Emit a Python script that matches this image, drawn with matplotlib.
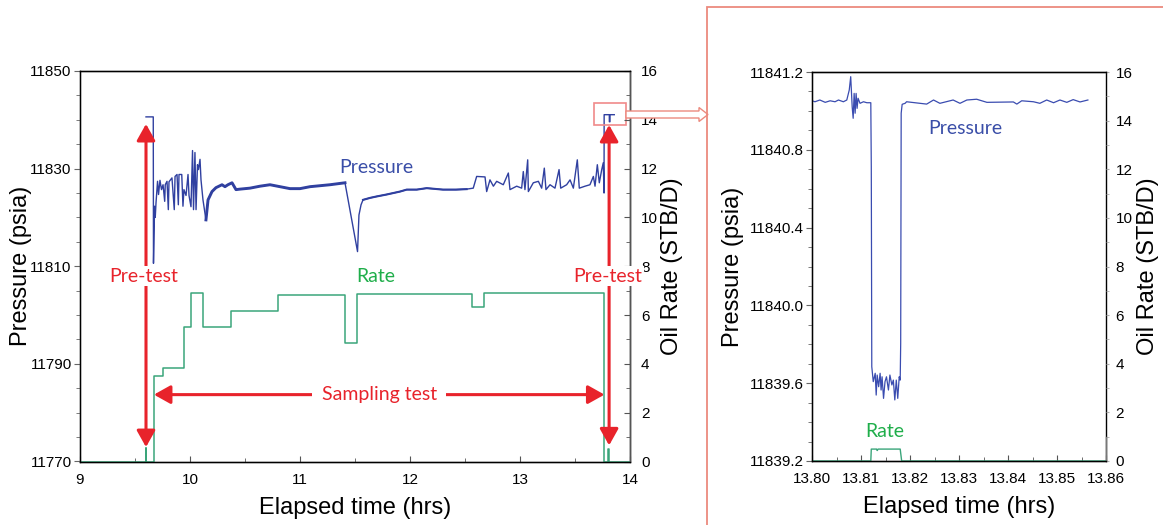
import matplotlib
matplotlib.use("Agg")
import matplotlib.pyplot as plt
import matplotlib.patches as mpatches
from matplotlib.ticker import MultipleLocator, FormatStrFormatter
import numpy as np

# ---- left panel: whole test ----
p_time = [9.600, 9.666, 9.668, 9.678, 9.684, 9.691, 9.705, 9.714, 9.727, 9.741, 9.755, 9.770,
          9.775, 9.791, 9.803, 9.809, 9.836, 9.857, 9.864, 9.882, 9.894, 9.900, 9.925, 9.936,
          9.945, 9.964, 9.982, 9.991, 10.009, 10.023, 10.032, 10.045, 10.055, 10.068, 10.077,
          10.091, 10.100, 10.118, 10.145, 10.164, 10.200, 10.236, 10.291, 10.318, 10.345, 10.382,
          10.418, 10.455, 10.545, 10.636, 10.727, 10.818, 10.909, 11.000, 11.091, 11.182, 11.273,
          11.409, 11.523, 11.536, 11.555, 11.573, 11.636, 11.697, 11.788, 11.909, 11.970, 12.061,
          12.152, 12.300, 12.418, 12.515, 12.575, 12.606, 12.682, 12.697, 12.727, 12.758, 12.788,
          12.848, 12.894, 12.909, 12.970, 13.015, 13.030, 13.045, 13.070, 13.076, 13.121, 13.167,
          13.197, 13.221, 13.236, 13.273, 13.318, 13.355, 13.370, 13.424, 13.455, 13.485, 13.521,
          13.539, 13.591, 13.636, 13.667, 13.682, 13.703, 13.721, 13.743, 13.757, 13.764, 13.765,
          13.812, 13.8122, 13.818, 13.8182, 13.857]
p_val = [11840.6, 11840.6, 11810.6, 11822.3, 11820.0, 11823.0, 11827.4, 11824.7, 11827.6, 11825.7,
         11826.7, 11823.3, 11826.7, 11827.4, 11821.6, 11827.3, 11828.1, 11821.6, 11828.4, 11828.8,
         11822.6, 11828.8, 11828.8, 11822.3, 11825.7, 11824.5, 11828.8, 11824.5, 11822.2, 11833.7,
         11821.6, 11833.3, 11821.6, 11830.8, 11829.8, 11831.9, 11827.7, 11823.6, 11819.5, 11823.6,
         11825.3, 11826.1, 11826.7, 11826.3, 11826.7, 11827.1, 11825.7, 11825.8, 11826.0, 11826.4,
         11826.7, 11826.3, 11825.9, 11825.9, 11826.3, 11826.5, 11826.7, 11827.1, 11813.0, 11820.5,
         11822.6, 11823.6, 11824.0, 11824.3, 11824.7, 11825.3, 11825.7, 11825.7, 11826.0, 11825.7,
         11825.7, 11825.8, 11826.0, 11828.4, 11828.3, 11825.3, 11827.7, 11826.4, 11827.4, 11826.7,
         11829.1, 11825.7, 11826.4, 11826.0, 11829.4, 11825.7, 11831.8, 11825.3, 11827.1, 11827.4,
         11826.0, 11830.1, 11825.7, 11826.7, 11826.0, 11829.8, 11826.0, 11826.7, 11827.7, 11826.0,
         11831.8, 11826.0, 11826.4, 11826.7, 11828.4, 11826.4, 11830.8, 11827.1, 11829.8, 11831.2,
         11825.0, 11841.05, 11841.05, 11839.6, 11839.6, 11841.05, 11841.05]

rate_time = [9.0, 9.599, 9.603, 9.669, 9.752, 9.943, 10.006, 10.121, 10.373, 10.803, 11.411,
             11.522, 12.561, 12.672, 13.768, 13.803, 13.807, 14.0]
rate_val = [0, 0.55, 0, 3.50, 3.83, 5.50, 6.91, 5.50, 6.17, 6.83, 4.86, 6.85, 6.32, 6.91, 0, 0.5, 0, 0]

# ---- right panel: zoom on the second pre-test ----
zp_time = [13.8000, 13.8006, 13.8016, 13.8027, 13.8037, 13.8047, 13.8054, 13.8064, 13.8071,
           13.8076, 13.8079, 13.8082, 13.8084, 13.8086, 13.8088, 13.8090, 13.8092, 13.8094,
           13.8098, 13.8105, 13.8112, 13.8120, 13.8121, 13.8122, 13.8125, 13.8129, 13.8131,
           13.8133, 13.8136, 13.8139, 13.8141, 13.8143, 13.8146, 13.8149, 13.8152, 13.8156,
           13.8159, 13.8163, 13.8166, 13.8169, 13.8172, 13.8175, 13.8178, 13.8180, 13.8181,
           13.8182, 13.8184, 13.8190, 13.8193, 13.8234, 13.8248, 13.8261, 13.8288, 13.8302,
           13.8316, 13.8336, 13.8357, 13.8411, 13.8418, 13.8428, 13.8452, 13.8465, 13.8479,
           13.8493, 13.8506, 13.8520, 13.8533, 13.8547, 13.8563]
zp_val = [11841.052, 11841.047, 11841.056, 11841.044, 11841.052, 11841.047, 11841.056, 11841.047,
          11841.056, 11841.107, 11841.176, 11841.021, 11840.962, 11841.090, 11840.988, 11841.090,
          11841.013, 11841.065, 11841.039, 11841.047, 11841.042, 11841.042, 11840.713, 11839.685,
          11839.608, 11839.651, 11839.539, 11839.642, 11839.582, 11839.651, 11839.565, 11839.633,
          11839.522, 11839.608, 11839.633, 11839.565, 11839.642, 11839.591, 11839.616, 11839.514,
          11839.616, 11839.522, 11839.633, 11839.616, 11839.805, 11840.988, 11841.034, 11841.039,
          11841.047, 11841.035, 11841.056, 11841.039, 11841.056, 11841.039, 11841.056, 11841.060,
          11841.044, 11841.046, 11841.035, 11841.052, 11841.047, 11841.039, 11841.056, 11841.042,
          11841.056, 11841.044, 11841.058, 11841.046, 11841.056]

zr_time = [13.800, 13.8120, 13.8121, 13.8132, 13.8133, 13.8135, 13.8180, 13.8183, 13.860]
zr_val = [0, 0, 0.49, 0.49, 0.43, 0.49, 0.49, 0, 0]

blue = "#3040a0"
green = "#3aa57a"
lbl_green = "#1fae4a"
red = "#e8232b"
salmon = "#ec8a7e"
tickfont = "Liberation Sans"
notefont = "Lato"

fig = plt.figure(figsize=(11.63, 5.25), dpi=100)
W, H = 1163.0, 525.0
ax1 = fig.add_axes([80 / W, 1 - 461.5 / H, 550 / W, 390.5 / H])
ax1r = ax1.twinx()
ax2 = fig.add_axes([812 / W, 1 - 461 / H, 294 / W, 389 / H])
ax2r = ax2.twinx()

# left panel
pt = np.array(p_time)
pv = np.array(p_val)
ax1.plot(pt, pv, color=blue, lw=1.0)
band = (pt >= 10.12) & (pt <= 11.41)
ax1.plot(pt[band], pv[band], color=blue, lw=2.1)
band2 = (pt >= 11.57) & (pt <= 12.56)
ax1.plot(pt[band2], pv[band2], color=blue, lw=1.5)
ax1r.plot(rate_time, rate_val, color=green, lw=1.1, drawstyle="steps-post")

ax1.set_xlim(9, 14)
ax1.set_ylim(11770, 11850)
ax1r.set_ylim(0, 16)
ax1.set_yticks([11770, 11790, 11810, 11830, 11850])
ax1.yaxis.set_minor_locator(MultipleLocator(5))
ax1.xaxis.set_major_locator(MultipleLocator(1))
ax1.xaxis.set_minor_locator(MultipleLocator(0.5))
ax1r.yaxis.set_major_locator(MultipleLocator(2))
ax1r.yaxis.set_minor_locator(MultipleLocator(1))

# right panel
ax2.plot(zp_time, zp_val, color="#3a4cb0", lw=0.9)
ax2r.plot(zr_time, zr_val, color=green, lw=1.0)
ax2.set_xlim(13.80, 13.86)
ax2.set_ylim(11839.2, 11841.2)
ax2r.set_ylim(0, 16)
ax2.yaxis.set_major_locator(MultipleLocator(0.4))
ax2.yaxis.set_minor_locator(MultipleLocator(0.1))
ax2.yaxis.set_major_formatter(FormatStrFormatter("%.1f"))
ax2.xaxis.set_major_locator(MultipleLocator(0.01))
ax2.xaxis.set_minor_locator(MultipleLocator(0.005))
ax2.xaxis.set_major_formatter(FormatStrFormatter("%.2f"))
ax2r.yaxis.set_major_locator(MultipleLocator(2))
ax2r.yaxis.set_minor_locator(MultipleLocator(1))

for a in (ax1, ax1r, ax2, ax2r):
    for s in a.spines.values():
        s.set_linewidth(1.0)
    for lab in a.get_xticklabels() + a.get_yticklabels():
        lab.set_fontfamily(tickfont)
        lab.set_fontsize(11)
for a in (ax1, ax2):
    a.spines["left"].set_color("#8a8a8a")
    a.spines["bottom"].set_color("#555555")
    a.spines["top"].set_color("#555555")
    a.tick_params(axis="y", which="both", direction="out", colors="#666666", labelcolor="black", pad=2)
    a.tick_params(axis="y", which="major", length=4)
    a.tick_params(axis="y", which="minor", length=3)
    a.tick_params(axis="x", which="both", direction="in", colors="#555555", labelcolor="black", pad=8)
    a.tick_params(axis="x", which="major", length=4)
    a.tick_params(axis="x", which="minor", length=3)
ax1r.spines["right"].set_color("#555555")
ax1r.tick_params(axis="y", which="both", direction="in", colors="#555555", labelcolor="black", pad=8)
ax1r.tick_params(axis="y", which="major", length=4)
ax1r.tick_params(axis="y", which="minor", length=3)
ax2r.spines["right"].set_color("#777777")
ax2r.spines["right"].set_bounds(0, 1)
ax2r.tick_params(axis="y", which="both", direction="out", colors="#aaaaaa", labelcolor="black", pad=5, length=2)

lab_kw = dict(fontfamily="Liberation Sans", fontsize=17)
for a, ar in ((ax1, ax1r), (ax2, ax2r)):
    a.set_xlabel("Elapsed time (hrs)", **lab_kw)
    a.set_ylabel("Pressure (psia)", **lab_kw)
    ar.set_ylabel("Oil Rate (STB/D)", **lab_kw)
    a.xaxis.set_label_coords(0.5, -0.09)
ax1.yaxis.set_label_coords(-0.087, 0.5)
ax1r.yaxis.set_label_coords(1.056, 0.5)
ax2.yaxis.set_label_coords(-0.231, 0.5)
ax2r.yaxis.set_label_coords(1.107, 0.5)

# annotations on the left panel
note = dict(fontfamily=notefont, fontsize=14)
ax1.text(11.69, 11830.3, "Pressure", color="#3a4ea8", ha="center", va="center", **note)
ax1r.text(11.69, 7.6, "Rate", color=lbl_green, ha="center", va="center", **note)

arrow_kw = dict(arrowstyle="<|-|>,head_length=0.5,head_width=0.28", color=red, lw=2.2,
                mutation_scale=20, shrinkA=0, shrinkB=0)
ax1r.annotate("", xy=(9.6, 0.59), xytext=(9.6, 13.83), arrowprops=arrow_kw, zorder=4)
ax1r.annotate("", xy=(13.81, 0.66), xytext=(13.81, 13.79), arrowprops=arrow_kw, zorder=4)
ax1r.annotate("", xy=(9.672, 2.74), xytext=(13.768, 2.74), arrowprops=arrow_kw, zorder=4)
box = dict(boxstyle="square,pad=0.08", fc="white", ec="none")
ax1r.text(9.58, 7.6, "Pre-test", color=red, ha="center", va="center", bbox=box, zorder=6, **note)
ax1r.text(13.80, 7.6, "Pre-test", color=red, ha="center", va="center", bbox=box, zorder=6, **note)
ax1r.text(11.72, 2.74, "Sampling test", color=red, ha="center", va="center",
          bbox=dict(boxstyle="square,pad=0.5", fc="white", ec="none"), zorder=6, **note)

# annotations on the right panel
ax2.text(13.8312, 11840.91, "Pressure", color="#3a4ea8", ha="center", va="center", **note)
ax2r.text(13.8149, 1.2, "Rate", color=lbl_green, ha="center", va="center", **note)

# zoom box, hollow arrow and frame
ax1.add_patch(mpatches.Rectangle((13.673, 11839.0), 0.291, 4.5, fill=False, ec="#f08a8a",
                                 lw=1.2, clip_on=False, zorder=5))
fig.add_artist(mpatches.FancyArrow(626 / W, 1 - 114.5 / H, 82 / W, 0, width=7 / H,
                                   head_width=14 / H, head_length=9 / W,
                                   length_includes_head=True, fc="white", ec=salmon, lw=1.0,
                                   transform=fig.transFigure))
fig.add_artist(mpatches.Rectangle((707 / W, -0.1), 1.0, 1.1 - 7 / H, fill=False, ec=salmon,
                                  lw=1.3, transform=fig.transFigure))

fig.savefig("out.png", dpi=100)
